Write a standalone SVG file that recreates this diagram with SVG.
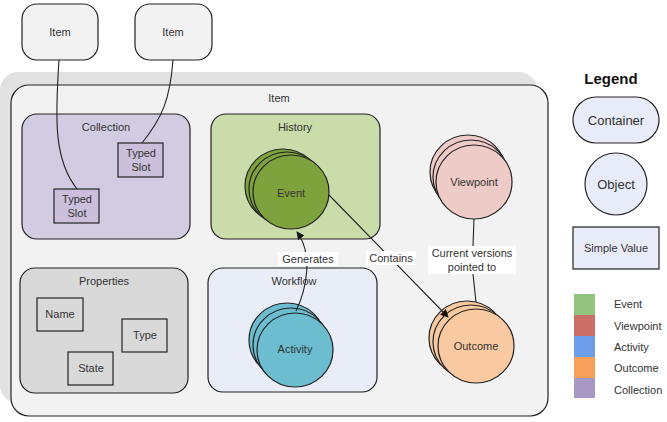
<svg xmlns="http://www.w3.org/2000/svg" width="667" height="422" viewBox="0 0 667 422">
<defs>
<style>
text{font-family:"Liberation Sans",Arial,sans-serif;font-size:11px;fill:#333;text-anchor:middle;dominant-baseline:central}
.st{stroke:#222;stroke-width:1.2}
.cn{fill:none;stroke:#222;stroke-width:1.1}
.lb{fill:#fff;stroke:none}
.ev{fill:#7fa33c}.vp{fill:#efcbc8}.ac{fill:#6bbdcf}.oc{fill:#f9c9a1}
.lg{text-anchor:start}
</style>
<marker id="ah" viewBox="0 0 10 10" refX="9" refY="5" markerWidth="8" markerHeight="8" orient="auto-start-reverse" markerUnits="userSpaceOnUse">
<path d="M0,0 L10,5 L0,10 z" fill="#111"/>
</marker>
</defs>
<rect width="667" height="422" fill="#fff"/>

<g id="item-top-1"><rect x="22" y="4" width="76" height="56" rx="15" fill="#f2f2f2" class="st"/><text x="60" y="32">Item</text></g>
<g id="item-top-2"><rect x="135" y="4" width="77" height="56" rx="15" fill="#f2f2f2" class="st"/><text x="173" y="32">Item</text></g>

<g id="item-main">
<rect x="0" y="72" width="537" height="331" rx="18" fill="#e2e2e2"/>
<rect x="11" y="85" width="537" height="331" rx="18" fill="#f2f2f2" class="st"/>
<text x="279" y="98">Item</text>
</g>

<g id="collection"><rect x="22" y="114" width="168" height="125" rx="15" fill="#d2cce3" class="st"/><text x="106" y="127">Collection</text></g>
<g id="typed-slot-1"><rect x="118" y="143" width="45" height="34" fill="#cbbfdc" class="st"/><text x="141" y="153">Typed</text><text x="141" y="167">Slot</text></g>
<g id="typed-slot-2"><rect x="54" y="189" width="45" height="34" fill="#cbbfdc" class="st"/><text x="77" y="199">Typed</text><text x="77" y="213">Slot</text></g>

<g id="history"><rect x="211" y="114" width="169" height="125" rx="15" fill="#c9dcaa" class="st"/><text x="295" y="127">History</text></g>
<g id="event">
<ellipse cx="283" cy="186" rx="38" ry="37" class="ev st"/>
<ellipse cx="287" cy="189" rx="38" ry="37" class="ev st"/>
<ellipse cx="291" cy="192" rx="38" ry="37" class="ev st"/>
<text x="291" y="193">Event</text>
</g>

<g id="properties"><rect x="20" y="268" width="168" height="125" rx="15" fill="#d9d9d9" class="st"/><text x="104" y="281">Properties</text></g>
<g id="name"><rect x="37" y="298" width="46" height="33" fill="#d9d9d9" class="st"/><text x="60" y="314">Name</text></g>
<g id="type"><rect x="122" y="319" width="45" height="33" fill="#d9d9d9" class="st"/><text x="145" y="335">Type</text></g>
<g id="state"><rect x="68" y="352" width="45" height="33" fill="#d9d9d9" class="st"/><text x="91" y="368">State</text></g>

<g id="workflow"><rect x="208" y="268" width="169" height="124" rx="15" fill="#e8edf7" class="st"/><text x="294" y="281">Workflow</text></g>
<g id="activity">
<ellipse cx="287" cy="340" rx="38" ry="37" class="ac st"/>
<ellipse cx="291" cy="345" rx="38" ry="37" class="ac st"/>
<ellipse cx="295" cy="350" rx="38" ry="37" class="ac st"/>
<text x="295" y="349">Activity</text>
</g>

<g id="viewpoint">
<ellipse cx="468" cy="172" rx="38" ry="37" class="vp st"/>
<ellipse cx="471" cy="177" rx="38" ry="37" class="vp st"/>
<ellipse cx="474" cy="182" rx="38" ry="37" class="vp st"/>
<text x="474" y="182">Viewpoint</text>
</g>

<g id="outcome">
<ellipse cx="467" cy="338" rx="38" ry="37" class="oc st"/>
<ellipse cx="471" cy="342" rx="38" ry="37" class="oc st"/>
<ellipse cx="476" cy="346" rx="38" ry="37" class="oc st"/>
<text x="476" y="346">Outcome</text>
</g>

<g id="connectors">
<path class="cn" d="M59,60 C55,120 54,160 77,189"/>
<path class="cn" d="M173,60 C170,100 162,118 142,143"/>
<path class="cn" d="M296,311 C306,290 314,255 297,232" marker-end="url(#ah)"/>
<rect class="lb" x="278" y="252" width="60" height="14"/>
<text x="308" y="259">Generates</text>
<path class="cn" d="M329,195 L448,317" marker-end="url(#ah)"/>
<rect class="lb" x="366" y="251" width="50" height="14"/>
<text x="391" y="258">Contains</text>
<path class="cn" d="M474,219 L473,246 M473,274 L476,302"/>
<rect class="lb" x="428" y="246" width="88" height="28"/>
<text x="472" y="253">Current versions</text>
<text x="472" y="267">pointed to</text>
</g>

<g id="legend">
<text x="611" y="78" style="font-size:15px;font-weight:bold;fill:#111">Legend</text>
<g id="legend-container"><rect x="573" y="97" width="86" height="46" rx="23" fill="#e8ecf8" class="st"/><text x="616" y="120" style="font-size:13px">Container</text></g>
<g id="legend-object"><circle cx="616" cy="184" r="31" fill="#e8ecf8" class="st"/><text x="616" y="184" style="font-size:13px">Object</text></g>
<g id="legend-simple"><rect x="573" y="227" width="86" height="42" fill="#e8ecf8" class="st"/><text x="616" y="248">Simple Value</text></g>
<rect x="574" y="294" width="21" height="21" fill="#93c47d"/>
<rect x="574" y="315" width="21" height="21" fill="#cc6e66"/>
<rect x="574" y="336" width="21" height="21" fill="#6d9eeb"/>
<rect x="574" y="357" width="21" height="21" fill="#f6a05a"/>
<rect x="574" y="378" width="21" height="20" fill="#a797c4"/>
<text class="lg" x="614" y="304">Event</text>
<text class="lg" x="614" y="326">Viewpoint</text>
<text class="lg" x="614" y="347">Activity</text>
<text class="lg" x="614" y="368">Outcome</text>
<text class="lg" x="614" y="390">Collection</text>
</g>
</svg>
